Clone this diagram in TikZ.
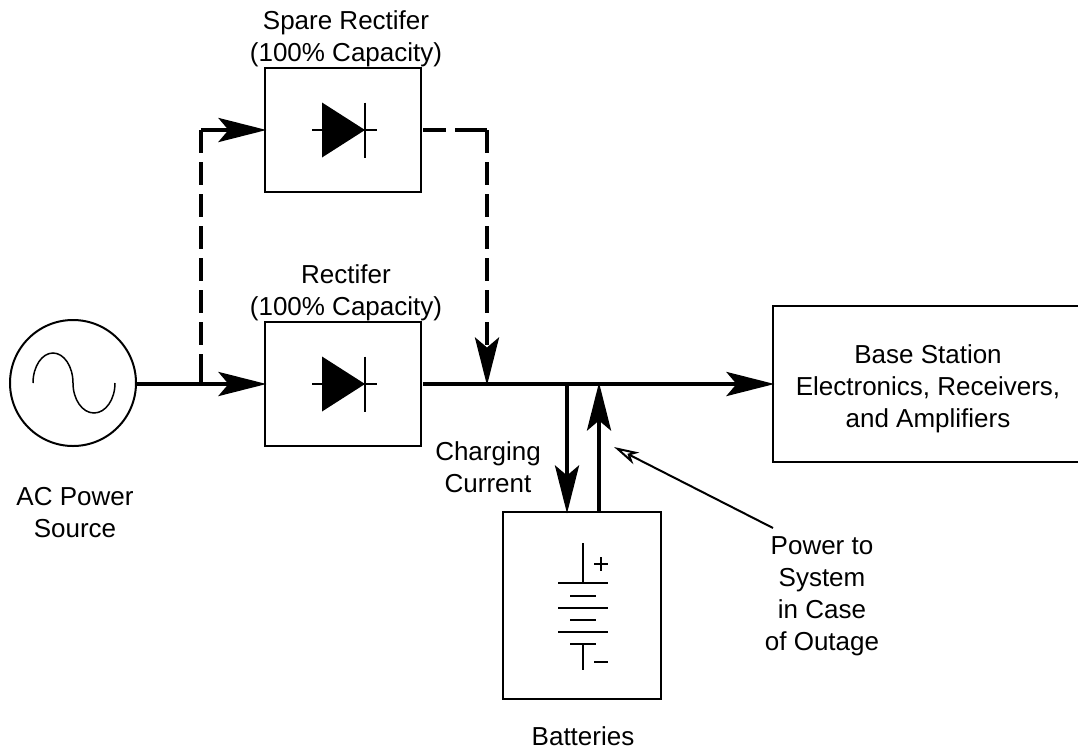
\documentclass[tikz,border=0pt]{standalone}
\usepackage{fontspec}
\setmainfont{Liberation Sans}
\usetikzlibrary{arrows.meta}

\tikzset{
    block/.style={draw, line width=2pt, minimum width=156pt, minimum height=124pt, outer sep=0pt, inner sep=0pt},
    bus/.style={line width=4.5pt},
    dashbus/.style={line width=4.5pt, dash pattern=on 23pt off 9pt},
    headtip/.style={-{Stealth[length=48pt,width=24pt,inset=10pt]}, shorten >=-1.5pt},
    symbol/.style={line width=2pt},
    label/.style={align=center, inner sep=0pt}
}

\begin{document}
\begin{tikzpicture}[x=1pt, y=-1pt, font=\fontsize{26}{32}\selectfont]
    \useasboundingbox (0,0) rectangle (1078,750);

    % 1. Blocks
    \node[draw, circle, line width=2pt, minimum size=126pt, outer sep=0pt, inner sep=0pt] (source) at (73,383) {};
    \node[block] (spare) at (343,130) {};
    \node[block] (rectifier) at (343,384) {};
    \node[block, align=center, minimum width=310pt, minimum height=156pt] (station) at (928,384)
        {\rule{0pt}{27.5pt}Base Station\\Electronics, Receivers,\\and Amplifiers};
    \node[block, minimum width=158pt, minimum height=187pt] (batteries) at (582,605.5) {};

    % 2. Sine wave in the source
    \draw[line width=1.5pt] (33,383) arc[start angle=180, end angle=360, x radius=20, y radius=30]
        arc[start angle=180, end angle=0, x radius=21, y radius=30];

    % 3. Junction points
    \coordinate (feedA) at (201,384);
    \coordinate (feedB) at (201,130);
    \coordinate (mergeA) at (487,130);
    \coordinate (mergeB) at (487,384);
    \coordinate (chargeA) at (567,384);
    \coordinate (chargeB) at (567,512);
    \coordinate (supplyA) at (599,512);
    \coordinate (supplyB) at (599,384);
    \coordinate (noteA) at (773,528);
    \coordinate (noteB) at (614,447);

    % 4. Solid connectors
    \draw[bus, headtip] (137,384) -- (rectifier.west);
    \draw[bus, headtip] (423,384) -- (station.west);
    \draw[bus, headtip] (feedB) -- (spare.west);
    \draw[bus, headtip] (chargeA) -- (chargeB);
    \draw[bus, headtip] (supplyA) -- (supplyB);
    \draw[bus] (feedA) -- +(0,-8);

    % 5. Dashed connectors
    \draw[dashbus] (feedB) -- (feedA);
    \draw[dashbus, dash pattern=on 23pt off 9pt on 40pt] (423,130) -- (mergeA);
    \draw[dashbus, headtip] (mergeA) -- (mergeB);

    % 6. Note arrow
    \draw[line width=2pt, -{Stealth[open, fill=white, length=25pt, width=13pt, inset=7pt]}] (noteA) -- (noteB);

    % 7. Diodes
    \foreach \y in {130,384} {
        \fill (322,\y-27.5) -- (365,\y) -- (322,\y+27.5) -- cycle;
        \draw[symbol] (312,\y) -- (377,\y);
        \draw[symbol] (365,\y-27.5) -- (365,\y+27.5);
    }

    % 8. Battery symbol
    \draw[symbol] (583,543) -- (583,583);
    \draw[symbol] (583,644) -- (583,670);
    \foreach \y in {583,608,632} {
        \draw[symbol] (558,\y) -- (608,\y);
    }
    \foreach \y in {596,620,644} {
        \draw[symbol] (570,\y) -- (596,\y);
    }
    \draw[symbol] (594,564) -- (608,564);
    \draw[symbol] (601,557) -- (601,571);
    \draw[symbol] (594,662) -- (608,662);

    % 9. Labels
    \node[label] (sparetext) at (346,39) {Spare Rectifer\\(100\% Capacity)};
    \node[label] (rectext) at (346,293) {Rectifer\\(100\% Capacity)};
    \node[label] (sourcetext) at (75,513) {AC Power\\Source};
    \node[label] (chargetext) at (488,467) {Charging\\Current};
    \node[label] (batterytext) at (583,736) {Batteries};
    \node[label] (notetext) at (822,596) {Power to\\System\\in Case\ \ \\of Outage};
\end{tikzpicture}
\end{document}
